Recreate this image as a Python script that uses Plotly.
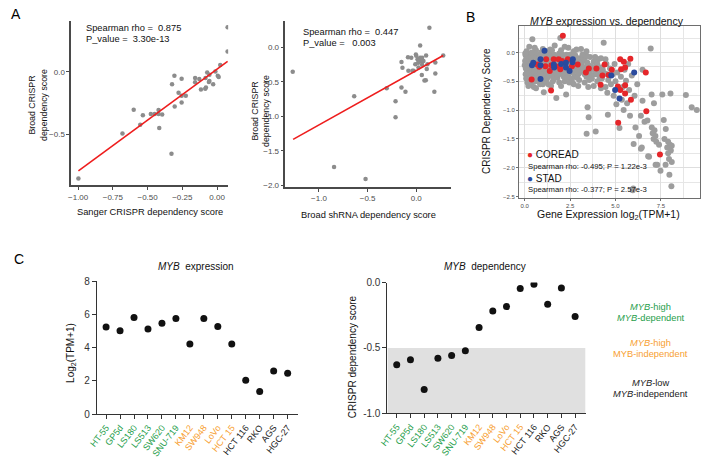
import plotly.graph_objects as go

W, H = 705, 458
FONT = "Liberation Sans, Arial, sans-serif"

# ---------------- Panel A1: Sanger vs Broad CRISPR ----------------
a1_points = [(0.076, 0.357), (0.076, 0.162), (0.023, 0.055), (-0.071, -0.005), (-0.055, -0.023),
             (-0.012, 0.003), (0.005, -0.031), (-0.028, -0.099), (-0.059, -0.081), (-0.080, -0.125),
             (-0.085, -0.135), (-0.116, -0.141), (-0.128, -0.057), (-0.158, -0.049), (-0.158, -0.083),
             (-0.083, -0.049), (-0.255, -0.055), (-0.307, -0.031), (-0.324, -0.099), (-0.277, -0.167),
             (-0.255, -0.190), (-0.225, -0.190), (-0.255, -0.245), (-0.305, -0.276), (-0.600, -0.302),
             (-0.421, -0.305), (-0.477, -0.336), (-0.449, -0.336), (-0.421, -0.336), (-0.395, -0.341),
             (-0.534, -0.346), (-0.553, -0.422), (-0.416, -0.448), (-0.681, -0.492), (-0.328, -0.654),
             (-0.998, -0.852), (-0.055, -0.073), (0.012, -0.040)]
a1_fit_x = [-0.998, 0.076]
a1_fit_y = [-0.791, 0.084]

# ---------------- Panel A2: Broad shRNA vs Broad CRISPR ----------------
a2_points = [(-1.27, -0.35), (-0.845, -1.733), (-0.521, -1.907), (-0.638, -0.705), (-0.304, -0.589),
             (-0.213, -0.78), (-0.213, -1.01), (-0.152, -0.579), (-0.111, -0.64), (-0.152, -0.21),
             (-0.142, -0.295), (-0.081, -0.336), (-0.04, -0.336), (-0.051, -0.149), (-0.01, -0.243),
             (-0.004, -0.102), (0.013, -0.172), (0.04, 0.028), (0.135, 0.286), (0.277, -0.116),
             (0.196, -0.219), (0.196, -0.378), (0.186, -0.64), (0.098, -0.476), (0.084, -0.48),
             (0.108, -0.313), (0.101, -0.116), (0.115, -0.243), (0.057, -0.397), (0.074, -0.196),
             (0.023, -0.29), (0.04, -0.149), (0.03, -0.2), (0.05, -0.2), (0.06, -0.15),
             (-0.085, -0.14), (-0.027, -0.336), (0.0, -0.12), (0.02, -0.22), (0.06, -0.25)]
a2_fit_x = [-1.266, 0.277]
a2_fit_y = [-1.332, -0.116]

# ---------------- Panel B: MYB expression vs dependency ----------------
b_gray = [
    (0.05, -0.05), (0.08, -0.12), (0.1, -0.2), (0.06, -0.28), (0.12, -0.35), (0.15, -0.42), (0.2, -0.08),
    (0.22, -0.16), (0.25, -0.25), (0.18, -0.31), (0.28, -0.38), (0.3, -0.02), (0.1, 0.02), (0.2, -0.48),
    (0.35, -0.55), (0.4, -0.1), (0.45, -0.18), (0.5, -0.27), (0.42, -0.33), (0.55, -0.4), (0.6, -0.05),
    (0.65, -0.14), (0.7, -0.3), (0.75, -0.38), (0.52, -0.45), (0.8, -0.22), (0.62, 0.04), (0.58, -0.5),
    (0.5, -0.6), (0.42, 0.23), (0.85, -0.08), (0.9, -0.16), (0.95, -0.26), (1.0, -0.33), (1.05, -0.42),
    (1.1, -0.03), (1.15, -0.19), (1.2, -0.28), (1.25, -0.37), (1.3, -0.1), (0.92, -0.48), (1.05, -0.69),
    (1.2, 0.02), (1.0, -0.55), (1.35, -0.22), (1.4, -0.31), (1.45, -0.05), (1.5, -0.14), (1.55, -0.4),
    (1.6, -0.27), (1.65, -0.35), (1.7, -0.08), (1.75, -0.18), (1.8, -0.44), (1.85, -0.3), (1.9, -0.02),
    (1.74, -0.79), (1.55, -0.5), (1.4, 0.05), (1.96, 0.25), (1.95, -0.2), (2.0, -0.36), (2.05, -0.1),
    (2.1, -0.26), (2.15, -0.42), (2.2, -0.15), (2.25, -0.32), (2.3, -0.04), (2.35, -0.22), (2.4, -0.38),
    (2.45, -0.12), (2.5, -0.28), (2.28, -0.73), (2.2, -0.5), (2.4, 0.08), (2.55, -0.18), (2.6, -0.35),
    (2.65, -0.06), (2.7, -0.25), (2.75, -0.42), (2.8, -0.14), (2.85, -0.3), (2.9, -0.2), (2.95, -0.38),
    (3.0, -0.1), (3.05, -0.27), (3.1, 0.06), (2.7, -0.55), (3.0, -0.48), (3.15, -0.2), (3.2, -0.34),
    (3.3, -0.13), (3.35, -0.26), (3.4, -0.42), (3.45, -0.18), (3.55, -0.32), (3.6, -0.08), (3.65, -0.24),
    (3.7, -0.45), (3.8, -0.16), (3.46, -0.95), (3.52, -1.125), (3.41, -1.41), (3.5, -0.6), (3.85, -0.3),
    (3.9, -0.38), (3.91, -1.37), (3.95, -0.22), (4.0, -0.5), (4.05, -0.12), (4.1, -0.33), (4.2, -0.26),
    (4.25, -0.45), (4.35, 0.17), (4.4, -0.36), (4.45, -0.6), (4.5, -0.2), (4.55, -0.7), (4.58, -1.08),
    (4.6, -0.48), (4.7, -0.28), (4.75, -0.55), (4.85, -0.38), (4.9, -0.75), (4.95, -0.2), (5.0, -0.5),
    (5.05, -0.9), (5.1, -0.35), (5.22, -1.31), (5.3, -0.42), (5.35, -0.82), (5.4, -0.6), (5.5, -0.3),
    (5.45, -1.0), (5.58, -0.49), (5.64, -0.88), (5.7, -0.2), (5.75, -0.65), (5.8, -1.1), (5.9, -0.4),
    (5.95, -2.39), (5.98, -2.36), (6.0, -1.59), (6.05, -0.75), (6.1, -1.3), (6.2, -0.55), (6.3, -1.45),
    (6.4, -1.1), (6.4, -1.67), (6.45, -1.65), (6.49, -0.3), (6.49, -0.84), (6.6, -1.2), (6.76, -1.18),
    (6.8, -1.8), (6.85, -1.81), (6.94, 0.07), (6.99, -0.73), (7.0, -1.3), (7.05, -1.4), (7.1, -1.5),
    (7.12, -0.88), (7.15, -1.35), (7.2, -1.45), (7.21, -1.95), (7.25, -1.55), (7.3, -1.95), (7.4, -1.6),
    (7.48, -2.05), (7.58, -0.73), (7.66, -1.17), (7.7, -1.5), (7.76, -1.95), (7.77, -1.33), (7.85, -1.65),
    (7.9, -1.75), (7.95, -1.85), (7.97, -2.12), (8.0, -1.6), (8.03, -0.71), (8.05, -1.7), (8.08, -2.32),
    (8.1, -1.9), (7.9, -1.55), (8.1, -1.62), (8.88, -0.74), (9.2, -0.95), (9.48, -1.0),
    (0.15, -0.1), (0.3, -0.2), (0.35, -0.3), (0.25, -0.4), (0.5, -0.12), (0.6, -0.22), (0.65, -0.36),
    (0.75, -0.1), (0.85, -0.3), (0.95, -0.4), (1.0, -0.12), (1.1, -0.24), (1.15, -0.34), (1.25, -0.18),
    (1.3, -0.42), (1.4, -0.12), (1.5, -0.24), (1.6, -0.18), (1.7, -0.3), (1.8, -0.12), (1.9, -0.38),
    (2.0, -0.16), (2.1, -0.34), (2.2, -0.28), (2.3, -0.18), (2.4, -0.3), (2.5, -0.2), (2.6, -0.12),
    (2.7, -0.33), (2.8, -0.22), (2.9, -0.12), (3.0, -0.32), (3.1, -0.22), (3.2, -0.12), (3.3, -0.38),
    (0.05, -0.38), (0.0, -0.22), (0.02, -0.15), (0.08, -0.45), (0.35, -0.08), (0.45, -0.45), (1.6, -0.45),
    (2.55, -0.45), (0.72, -0.5), (1.3, -0.55), (2.0, -0.58), (0.4, 0.0), (0.9, 0.0), (2.0, 0.04),
    (2.7, 0.02), (0.25, 0.1), (1.65, 0.12),
    (0.03, -0.02), (0.12, -0.26), (0.32, -0.44), (0.55, -0.32), (0.68, -0.44), (0.8, -0.04), (0.88, -0.38),
    (1.08, -0.08), (1.22, -0.46), (1.35, -0.02), (1.48, -0.36), (1.62, -0.04), (1.78, -0.38), (1.88, -0.16),
    (2.08, -0.04), (2.18, -0.38), (2.32, -0.44), (2.48, -0.04), (2.62, -0.3), (2.78, -0.05), (2.88, -0.44),
    (3.02, -0.18), (3.18, -0.04), (3.25, -0.28), (3.42, -0.06), (3.5, -0.22), (3.62, -0.38), (3.75, -0.28),
    (3.88, -0.08), (4.0, -0.2), (4.12, -0.42), (4.2, -0.1), (4.3, -0.3), (4.45, -0.12), (4.55, -0.38),
    (0.2, -0.58), (0.62, -0.62), (0.85, -0.55), (1.45, -0.58), (1.9, -0.52), (2.45, -0.52), (2.95, -0.58),
    (3.3, -0.52), (3.8, -0.58), (4.2, -0.62), (0.55, 0.08), (1.0, 0.06), (1.5, 0.04), (2.2, 0.1),
    (2.85, 0.05), (3.4, 0.02), (0.15, -0.52), (1.15, -0.5), (2.6, -0.5), (3.55, -0.48)]
b_coread = [(2.10, 0.29), (0.38, -0.47), (1.45, -0.66), (0.69, -0.21), (1.18, -0.12), (1.6, -0.12),
            (1.47, -0.22), (1.14, -0.24), (1.38, -0.32), (1.69, -0.24), (1.92, -0.24), (1.87, -0.12),
            (2.05, -0.15), (1.96, -0.29), (2.92, -0.21), (3.37, -0.35), (3.53, -0.28), (3.95, -0.28),
            (4.4, -0.21), (4.28, -0.40), (4.18, -0.56), (4.62, -0.39), (4.8, -0.30), (5.13, -0.59),
            (5.26, -0.12), (5.46, -0.16), (5.31, -0.29), (5.53, -0.26), (5.27, -0.65), (5.53, -0.57),
            (5.53, -0.71), (5.85, -0.82), (5.82, -0.11), (6.67, -0.35), (6.7, -1.02), (5.15, -1.22),
            (7.45, -1.77), (2.37, -0.12), (0.8, -0.25), (2.6, -0.24)]
b_stad = [(1.09, 0.03), (0.47, -0.18), (0.87, -0.12), (0.87, -0.46), (0.87, -0.22), (1.6, -0.21),
          (1.62, -0.26), (2.01, -0.2), (2.27, -0.18), (2.27, -0.26), (2.65, -0.12), (2.63, -0.17),
          (2.47, -0.32), (4.77, -0.40), (4.98, -0.65), (5.22, -0.80), (6.03, -0.35), (0.4, -0.22)]
b_stats = {"COREAD": "Spearman rho: -0.495; P = 1.22e-3", "STAD": "Spearman rho: -0.377; P = 2.57e-3"}

# ---------------- Panel C ----------------
cells = ["HT-55", "GP5d", "LS180", "LS513", "SW620", "SNU-719", "KM12", "SW948", "LoVo",
         "HCT 15", "HCT 116", "RKO", "AGS", "HGC-27"]
cell_group = ["hd"] * 6 + ["hi"] * 4 + ["lo"] * 4
myb_expr = [5.24, 5.02, 5.82, 5.12, 5.47, 5.76, 4.22, 5.75, 5.27, 4.22, 2.04, 1.35, 2.59, 2.45]
myb_dep = [-0.628, -0.59, -0.817, -0.578, -0.558, -0.521, -0.343, -0.218, -0.184, -0.045,
           -0.012, -0.166, -0.042, -0.26]
dep_shade = [-1.0, -0.5]

GREEN, ORANGE, BLACK = "#1f9e4b", "#f7a032", "#222222"
group_color = {"hd": GREEN, "hi": ORANGE, "lo": BLACK}
RED, BLUE, GRAY = "#e5262a", "#2a4a9e", "#9d9d9d"


def px(x):
    return x / W


def py(y):
    return 1 - y / H


def unz(pts):
    return [p[0] for p in pts], [p[1] for p in pts]


fig = go.Figure()

# A1
x, y = unz(a1_points)
fig.add_trace(go.Scatter(x=x, y=y, mode="markers", marker=dict(size=4.5, color="#8c8c8c"),
                         xaxis="x", yaxis="y", showlegend=False))
fig.add_trace(go.Scatter(x=a1_fit_x, y=a1_fit_y, mode="lines", line=dict(color="#ee1d1d", width=1.6),
                         xaxis="x", yaxis="y", showlegend=False))
# A2
x, y = unz(a2_points)
fig.add_trace(go.Scatter(x=x, y=y, mode="markers", marker=dict(size=4.5, color="#8c8c8c"),
                         xaxis="x2", yaxis="y2", showlegend=False))
fig.add_trace(go.Scatter(x=a2_fit_x, y=a2_fit_y, mode="lines", line=dict(color="#ee1d1d", width=1.6),
                         xaxis="x2", yaxis="y2", showlegend=False))
# B
for pts, col in [(b_gray, GRAY), (b_coread, RED), (b_stad, BLUE)]:
    x, y = unz(pts)
    fig.add_trace(go.Scatter(x=x, y=y, mode="markers", marker=dict(size=6, color=col),
                             xaxis="x3", yaxis="y3", showlegend=False))
# C
fig.add_trace(go.Scatter(x=cells, y=myb_expr, mode="markers", marker=dict(size=7, color="#111"),
                         xaxis="x4", yaxis="y4", showlegend=False))
fig.add_trace(go.Scatter(x=cells, y=myb_dep, mode="markers", marker=dict(size=7, color="#111"),
                         xaxis="x5", yaxis="y5", showlegend=False))

gg_axis = dict(showline=True, linecolor="#4a4a4a", linewidth=1.5, ticks="outside", ticklen=3,
               tickcolor="#4a4a4a", tickwidth=1, showgrid=False, zeroline=False,
               tickfont=dict(size=8, color="#4d4d4d", family=FONT))
b_axis = dict(showline=True, linecolor="#6e6e6e", linewidth=1, mirror=True, ticks="outside", ticklen=2,
              tickcolor="#6e6e6e", showgrid=True, gridcolor="#dedede", gridwidth=1, zeroline=False,
              tickfont=dict(size=6, color="#4d4d4d", family=FONT))
c_axis = dict(showline=True, linecolor="#333", linewidth=1, ticks="outside", ticklen=4,
              tickcolor="#333", showgrid=False, zeroline=False,
              tickfont=dict(size=10, color="#333", family=FONT))

ticktext = [f'<span style="color:{group_color[g]}">{c}</span>' for c, g in zip(cells, cell_group)]

layout = dict(
    width=W, height=H, margin=dict(l=0, r=0, t=0, b=0), paper_bgcolor="white", plot_bgcolor="white",
    font=dict(family=FONT),
    xaxis=dict(gg_axis, domain=[px(63), px(222)], range=[-1.05, 0.08], anchor="y",
               tickvals=[-1, -0.75, -0.5, -0.25, 0], tickformat=".2f"),
    yaxis=dict(gg_axis, domain=[py(184), py(15)], range=[-0.906, 0.41], anchor="x",
               tickvals=[-0.5, 0], tickformat=".1f"),
    xaxis2=dict(gg_axis, domain=[px(280), px(448)], range=[-1.345, 0.36], anchor="y2",
                tickvals=[-1, -0.5, 0], tickformat=".1f"),
    yaxis2=dict(gg_axis, domain=[py(185.7), py(15)], range=[-2.02, 0.39], anchor="x2",
                tickvals=[-2, -1.5, -1, -0.5, 0], tickformat=".1f"),
    xaxis3=dict(b_axis, domain=[px(516.7), px(700)], range=[-0.31, 9.66], anchor="y3",
                tickvals=[0, 2.5, 5, 7.5], tickformat=".1f",
                minor=dict(dtick=1.25, tick0=0, showgrid=True, gridcolor="#e6e6e6", gridwidth=0.8)),
    yaxis3=dict(b_axis, domain=[py(196.7), py(20.7)], range=[-2.517, 0.456], anchor="x3",
                tickvals=[-2.5, -2, -1.5, -1, -0.5, 0], tickformat=".1f",
                minor=dict(dtick=0.25, tick0=0, showgrid=True, gridcolor="#e6e6e6", gridwidth=0.8)),
    xaxis4=dict(c_axis, domain=[px(89), px(292.7)], range=[-0.66, 13.74], anchor="y4",
                type="category", tickvals=cells, ticktext=ticktext, tickangle=-52,
                tickfont=dict(size=9, color="#333", family=FONT)),
    yaxis4=dict(c_axis, domain=[py(419), py(282.7)], range=[0, 8], anchor="x4",
                tickvals=[0, 2, 4, 6, 8]),
    xaxis5=dict(c_axis, domain=[px(383.3), px(584)], range=[-0.68, 13.76], anchor="y5",
                type="category", tickvals=cells, ticktext=ticktext, tickangle=-52,
                tickfont=dict(size=9, color="#333", family=FONT)),
    yaxis5=dict(c_axis, domain=[py(418.3), py(284)], range=[-1, 0], anchor="x5",
                tickvals=[-1, -0.5, 0], ticktext=["-1.0", "-0.5", "0.0"]),
)

shapes = [dict(type="rect", xref="x5", yref="y5", x0=-0.68, x1=13.76, y0=dep_shade[0], y1=dep_shade[1],
               fillcolor="#e0e0e0", line=dict(width=0), layer="below")]


def ann(text, x, y, size, color="#111", xanchor="center", angle=0):
    return dict(text=text, x=px(x), y=py(y), xref="paper", yref="paper", showarrow=False,
                font=dict(size=size, color=color, family=FONT), xanchor=xanchor, yanchor="middle",
                textangle=angle)


anns = [
    ann("A", 7, 8, 14, "#000"),
    ann("B", 467, 11, 14, "#000"),
    ann("C", 10, 260, 14, "#000"),
    # A1
    ann("Spearman rho = &nbsp;0.875", 76, 23, 9.3, xanchor="left"),
    ann("P_value = &nbsp;3.30e-13", 76, 33.5, 9.3, xanchor="left"),
    ann("Broad CRISPR<br>dependency score", 29, 102, 8.8, angle=-90),
    ann("Sanger CRISPR dependency score", 142.5, 212, 9.3),
    # A2
    ann("Spearman rho = &nbsp;0.447", 296, 27, 9.3, xanchor="left"),
    ann("P_value = &nbsp;&nbsp;0.003", 296, 38, 9.3, xanchor="left"),
    ann("Broad CRISPR<br>dependency score", 254, 108, 8.8, angle=-90),
    ann("Broad shRNA dependency score", 364.5, 215, 9.3),
    # B
    ann("<i>MYB</i> expression vs. dependency", 606, 15, 10.5),
    ann("CRISPR Dependency Score", 483, 108, 10, angle=-90),
    ann("Gene Expression log<sub>2</sub>(TPM+1)", 607.5, 215, 10.5),
    ann(f'<span style="color:{RED}">●</span> COREAD', 523, 153, 10, xanchor="left"),
    ann(b_stats["COREAD"], 524, 164.5, 7.7, xanchor="left"),
    ann(f'<span style="color:{BLUE}">●</span> STAD', 523, 177.5, 10, xanchor="left"),
    ann(b_stats["STAD"], 524, 188, 7.7, xanchor="left"),
    # C1
    ann("<i>MYB</i>&nbsp;&nbsp;expression", 189, 268, 10),
    ann("Log<sub>2</sub>(TPM+1)", 62, 356, 10, angle=-90),
    # C2
    ann("<i>MYB</i>&nbsp;&nbsp;dependency", 482, 268, 10),
    ann("CRISPR dependency score", 348, 360, 10, angle=-90),
    # C legend text
    ann("<i>MYB</i>-high", 650, 309, 9.3, GREEN),
    ann("<i>MYB</i>-dependent", 650, 320, 9.3, GREEN),
    ann("<i>MYB</i>-high", 650, 346.5, 9.3, ORANGE),
    ann("MYB-independent", 650, 357.5, 9.3, ORANGE),
    ann("<i>MYB</i>-low", 650, 387.5, 9.3, BLACK),
    ann("<i>MYB</i>-independent", 650, 398.5, 9.3, BLACK),
]

fig.update_layout(**layout, shapes=shapes, annotations=anns)
fig.write_html("out.html")
